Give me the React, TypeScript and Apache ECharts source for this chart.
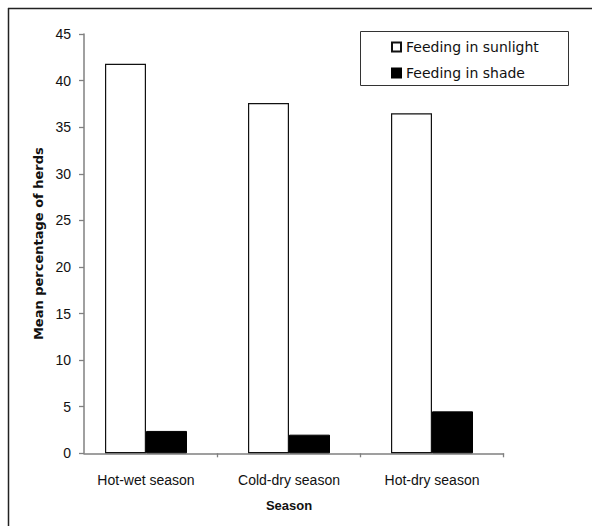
import React, { useEffect, useRef } from "react";
import * as echarts from "echarts";

const categories = ["Hot-wet season", "Cold-dry season", "Hot-dry season"];
const sunlightValues = [41.8, 37.6, 36.5];
const shadeValues = [2.4, 2.0, 4.5];
const seriesNames = ["Feeding in sunlight", "Feeding in shade"];
const yMin = 0;
const yMax = 45;
const yInterval = 5;

const FONT = "'Liberation Sans', Arial, sans-serif";
const WIDE_FONT = "'DejaVu Sans', sans-serif";

export default function App() {
  const ref = useRef<HTMLDivElement>(null);
  useEffect(() => {
    if (!ref.current) return;
    const chart = echarts.init(ref.current, null, { renderer: "svg" });
    const gridTop = 34;
    const gridBottom = 72.7;
    chart.setOption({
      animation: false,
      backgroundColor: "#ffffff",
      textStyle: { fontFamily: FONT },
      grid: [
        { left: 74.5, right: 88.5, top: gridTop, bottom: gridBottom },
        { left: 84, right: 88.5, top: gridTop, bottom: gridBottom },
      ],
      legend: {
        orient: "vertical",
        left: 391,
        top: 39,
        padding: 0,
        itemWidth: 9,
        itemHeight: 9,
        itemGap: 10,
        icon: "rect",
        textStyle: { fontFamily: WIDE_FONT, fontSize: 14, color: "#111", lineHeight: 16 },
        data: seriesNames,
      },
      xAxis: [
        {
          type: "category",
          gridIndex: 0,
          data: categories,
          axisLine: { show: false },
          axisTick: {
            show: true,
            length: 4,
            interval: (index: number) => index !== 0,
            lineStyle: { color: "#808080", width: 1.3 },
          },
          axisLabel: { color: "#111", fontSize: 14, margin: 20, fontFamily: FONT, interval: 0 },
          name: "Season",
          nameLocation: "middle",
          nameGap: 46,
          nameTextStyle: { fontWeight: "bold", fontSize: 13, color: "#111", fontFamily: FONT },
          splitLine: { show: false },
        },
        {
          type: "value",
          gridIndex: 1,
          min: 0,
          max: 1,
          axisLine: { show: true, lineStyle: { color: "#808080", width: 1.5 } },
          axisTick: { show: false },
          axisLabel: { show: false },
          splitLine: { show: false },
        },
      ],
      yAxis: [
        {
          type: "value",
          gridIndex: 0,
          min: yMin,
          max: yMax,
          interval: yInterval,
          show: false,
          splitLine: { show: false },
        },
        {
          type: "value",
          gridIndex: 1,
          min: yMin,
          max: yMax,
          interval: yInterval,
          axisLine: { show: true, lineStyle: { color: "#808080", width: 1.5 } },
          axisTick: { show: true, length: 5, inside: false, lineStyle: { color: "#808080", width: 1.3 } },
          axisLabel: { color: "#111", fontSize: 14, margin: 13, fontFamily: FONT },
          splitLine: { show: false },
          name: "Mean percentage of herds",
          nameLocation: "middle",
          nameRotate: 90,
          nameGap: 39,
          nameTextStyle: { fontWeight: "bold", fontSize: 13, color: "#111", fontFamily: WIDE_FONT },
        },
      ],
      graphic: [
        {
          type: "line",
          shape: { x1: 8, y1: 8.5, x2: 592, y2: 8.5 },
          style: { stroke: "#222", lineWidth: 1.5 },
          silent: true,
        },
        {
          type: "line",
          shape: { x1: 8.5, y1: 8, x2: 8.5, y2: 526 },
          style: { stroke: "#222", lineWidth: 1.5 },
          silent: true,
        },
        {
          type: "rect",
          shape: { x: 360.5, y: 31.5, width: 208, height: 54 },
          style: { fill: "none", stroke: "#333", lineWidth: 1 },
          silent: true,
          z: 10,
        },
      ],
      series: [
        {
          name: seriesNames[0],
          type: "bar",
          xAxisIndex: 0,
          yAxisIndex: 0,
          data: sunlightValues,
          barWidth: 41,
          barGap: "0%",
          itemStyle: { color: "#ffffff", borderColor: "#111", borderWidth: 1.2 },
        },
        {
          name: seriesNames[1],
          type: "bar",
          xAxisIndex: 0,
          yAxisIndex: 0,
          data: shadeValues,
          barWidth: 41,
          barGap: "0%",
          itemStyle: { color: "#000000", borderColor: "#000", borderWidth: 1 },
        },
      ],
    });
    return () => chart.dispose();
  }, []);
  return (
    <div
      ref={ref}
      style={{ position: "fixed", left: 0, top: 0, width: 592, height: 526 }}
    />
  );
}
